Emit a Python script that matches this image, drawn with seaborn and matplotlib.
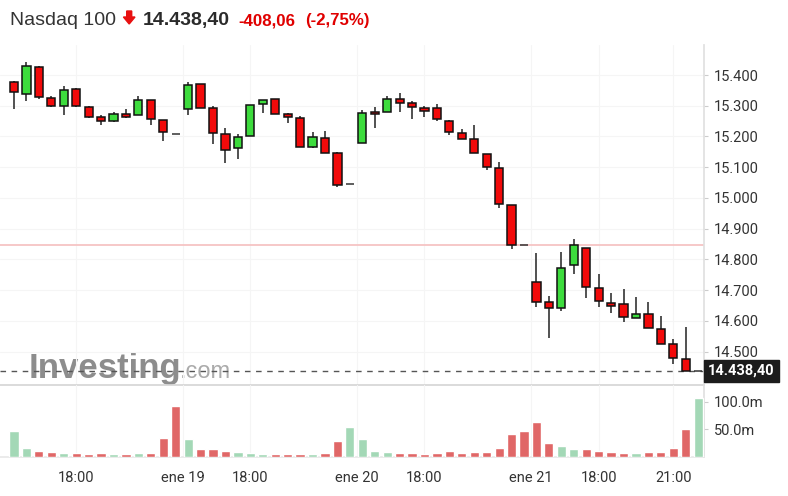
import matplotlib
matplotlib.use('Agg')
import matplotlib.pyplot as plt
import matplotlib.transforms as mtransforms
from matplotlib.patches import Polygon, Rectangle
import numpy as np
import pandas as pd
import seaborn as sns

# ─────────────────────────────────────────────────────────────────────────────
# DATA  (30-min candles, Nasdaq 100, 18-21 ene)
# ─────────────────────────────────────────────────────────────────────────────
opens = [15378, 15337, 15427, 15326, 15300, 15354, 15297, 15264, 15251, 15273, 15269, 15318, 15253, 15208,
         15288, 15372, 15294, 15207, 15162, 15203, 15305, 15322, 15274, 15261, 15166, 15196, 15147, 15045,
         15178, 15281, 15280, 15321, 15310, 15294, 15294, 15251, 15212, 15192, 15143, 15098, 14977, 14846,
         14728, 14663, 14641, 14781, 14838, 14708, 14659, 14655, 14609, 14622, 14574, 14525, 14476, 14438.4]
highs = [15380, 15441, 15429, 15332, 15365, 15357, 15299, 15270, 15279, 15289, 15332, 15318, 15253, 15208,
         15376, 15372, 15299, 15227, 15207, 15301, 15319, 15322, 15277, 15267, 15216, 15219, 15150, 15045,
         15286, 15297, 15333, 15340, 15315, 15300, 15305, 15253, 15223, 15237, 15143, 15118, 14977, 14846,
         14820, 14681, 14823, 14866, 14838, 14752, 14690, 14703, 14677, 14662, 14616, 14541, 14579, 14438.4]
lows = [15288, 15316, 15321, 15295, 15269, 15295, 15261, 15237, 15246, 15259, 15269, 15237, 15185, 15208,
        15269, 15292, 15176, 15115, 15126, 15203, 15277, 15272, 15245, 15167, 15162, 15145, 15037, 15045,
        15178, 15229, 15280, 15281, 15257, 15264, 15250, 15204, 15191, 15145, 15091, 14968, 14834, 14846,
        14646, 14543, 14633, 14753, 14674, 14646, 14627, 14597, 14609, 14576, 14524, 14460, 14438.4, 14438.4]
closes = [15346, 15429, 15329, 15300, 15350, 15300, 15264, 15251, 15273, 15264, 15318, 15256, 15216, 15208,
          15366, 15292, 15210, 15155, 15199, 15301, 15319, 15272, 15264, 15167, 15199, 15145, 15042, 15045,
          15277, 15272, 15322, 15308, 15297, 15284, 15256, 15216, 15191, 15145, 15102, 14979, 14846, 14846,
          14663, 14641, 14773, 14846, 14710, 14666, 14649, 14614, 14622, 14576, 14524, 14478, 14438.4, 14438.4]

# volume in millions, with up/down flag as shown by the bar colour
volumes = [47.5, 15.7, 11.4, 9.6, 7.2, 7.2, 4.9, 7.2, 4.9, 4.9, 7.2, 7.2, 34.3, 92.6,
           32, 13.9, 13.9, 11.4, 9, 7.2, 4.9, 4.9, 4.9, 4.9, 4.9, 7.2, 29.4, 54.2,
           32, 11.4, 9, 7.2, 7.2, 4.9, 7.2, 11.4, 7.2, 9, 9, 15.7, 41, 47.5,
           63.2, 24.7, 20.4, 13.9, 13.9, 11.4, 9, 7.2, 7.2, 9, 9, 15.7, 50, 106]
vol_dir = ['u', 'u', 'd', 'd', 'u', 'd', 'd', 'd', 'u', 'd', 'u', 'd', 'd', 'd',
           'u', 'd', 'd', 'd', 'u', 'u', 'u', 'd', 'd', 'd', 'u', 'd', 'd', 'u',
           'u', 'u', 'u', 'd', 'd', 'd', 'd', 'd', 'd', 'd', 'd', 'd', 'd', 'd',
           'd', 'd', 'u', 'u', 'd', 'd', 'd', 'd', 'u', 'd', 'd', 'd', 'd', 'u']

prev_close = 14846.46
last_price = 14438.40

time_tick_pos = [5, 13.55, 19, 27.55, 33, 41.55, 47, 53]
time_tick_labels = ['18:00', 'ene 19', '18:00', 'ene 20', '18:00', 'ene 21', '18:00', '21:00']
price_ticks = [14500, 14600, 14700, 14800, 14900, 15000, 15100, 15200, 15300, 15400]
vol_ticks = [50, 100]
vol_tick_labels = ['50.0m', '100.0m']

# ─────────────────────────────────────────────────────────────────────────────
# STYLE
# ─────────────────────────────────────────────────────────────────────────────
sns.set_theme(style='white')
plt.rcParams['font.family'] = ['Roboto', 'DejaVu Sans']

UP = '#3ddc3d'
DOWN = '#f20a0a'
VOL_UP = '#a3d8b6'
VOL_DOWN = '#e06767'
GRID = '#f5f5f5'
TXT = '#333333'

W, H = 788, 496
fig = plt.figure(figsize=(W / 100, H / 100), dpi=100)
fig.patch.set_facecolor('white')


def px(x, y):
    return x / W, 1 - y / H


ax_p = fig.add_axes([0, 1 - 385 / H, 704 / W, (385 - 45) / H])
ax_v = fig.add_axes([0, 1 - 457 / H, 704 / W, (457 - 385) / H])

x = np.arange(len(opens))
xlim = (-1.125, 55.47)

# ─────────────────────────────────────────────────────────────────────────────
# PRICE PANEL
# ─────────────────────────────────────────────────────────────────────────────
o = np.array(opens); c = np.array(closes); hi = np.array(highs); lo = np.array(lows)
flat = o == c
up = c > o
body_col = np.where(up, UP, DOWN)

ax_p.vlines(x[~flat], lo[~flat], hi[~flat], color='#222222', lw=1.1, zorder=3)
ax_p.bar(x[~flat], np.abs(c - o)[~flat], bottom=np.minimum(o, c)[~flat], width=0.66,
         color=body_col[~flat], edgecolor='#111111', linewidth=1.1, zorder=4)
ax_p.hlines(c[flat], x[flat] - 0.32, x[flat] + 0.32, color='#333333', lw=1.1, zorder=4)

ax_p.axhline(prev_close, color='#f6c4c4', lw=1.3, zorder=2)
ax_p.axhline(last_price, color='#555555', lw=1.0, dashes=(4, 4), zorder=2)

ax_p.set_xlim(*xlim)
ax_p.set_ylim(14391.6, 15497.6)
ax_p.set_xticks(time_tick_pos)
ax_p.set_xticklabels([])
ax_p.set_yticks(price_ticks)
ax_p.set_yticklabels([f'{v:,.0f}'.replace(',', '.') for v in price_ticks])
ax_p.yaxis.tick_right()
ax_p.tick_params(axis='y', length=3, width=0.8, color='#cccccc', pad=4,
                 labelsize=10.5, labelcolor=TXT)
ax_p.tick_params(axis='x', length=0)
ax_p.grid(True, color=GRID, lw=0.8)
for s in ['top', 'left']:
    ax_p.spines[s].set_visible(False)
ax_p.spines['right'].set_color('#e0e0e0')
ax_p.spines['bottom'].set_color('#d6d6d6')
ax_p.set_facecolor('none')

# last price label
blend = mtransforms.blended_transform_factory(ax_p.transAxes, ax_p.transData)
ax_p.add_patch(Rectangle((1.0, last_price - 11 * 3.253), 75 / 704, 22 * 3.253,
                         transform=blend, clip_on=False, color='#1c1c1c', zorder=6))
ax_p.text(1.0 + 4 / 704, last_price, '14.438,40', transform=blend, color='white',
          fontsize=10.5, fontweight='bold', va='center', ha='left', zorder=7, clip_on=False)

# watermark
ax_p.text(*px(29, 378), 'Investing', transform=fig.transFigure, fontsize=25,
          fontweight='bold', color='#8d8d8d', family=['Liberation Sans'], zorder=0.5)
ax_p.text(*px(180, 378), '.com', transform=fig.transFigure, fontsize=17,
          color='#ababab', family=['Liberation Sans'], zorder=0.5)

# ─────────────────────────────────────────────────────────────────────────────
# VOLUME PANEL
# ─────────────────────────────────────────────────────────────────────────────
vol_df = pd.DataFrame({'idx': x, 'vol': volumes, 'dir': vol_dir})
sns.barplot(data=vol_df, x='idx', y='vol', hue='dir', palette={'u': VOL_UP, 'd': VOL_DOWN},
            dodge=False, width=0.74, saturation=1, legend=False, ax=ax_v, zorder=3)
ax_v.set_xlim(*xlim)
ax_v.set_ylim(0, 130)
ax_v.set_xlabel('')
ax_v.set_ylabel('')
ax_v.set_xticks(time_tick_pos)
ax_v.set_xticklabels(time_tick_labels)
ax_v.set_yticks(vol_ticks)
ax_v.set_yticklabels(vol_tick_labels)
ax_v.yaxis.tick_right()
ax_v.tick_params(axis='y', length=3, width=0.8, color='#cccccc', pad=4,
                 labelsize=10.5, labelcolor=TXT)
ax_v.tick_params(axis='x', length=4, width=0.8, color='#cccccc', pad=6,
                 labelsize=10.5, labelcolor=TXT)
ax_v.grid(True, axis='x', color=GRID, lw=0.8)
ax_v.set_axisbelow(True)
for s in ['top', 'left']:
    ax_v.spines[s].set_visible(False)
ax_v.spines['right'].set_color('#e0e0e0')
ax_v.spines['bottom'].set_color('#e8e8e8')
ax_v.set_facecolor('none')

# ─────────────────────────────────────────────────────────────────────────────
# HEADER
# ─────────────────────────────────────────────────────────────────────────────
hdr = ['Liberation Sans', 'DejaVu Sans']
fig.text(*px(10, 25), 'Nasdaq 100', fontsize=14, color='#333333', family=hdr, va='baseline')
arrow = [(126.7, 11), (131.7, 11), (131.7, 17), (135, 17), (129.2, 24),
         (123.4, 17), (126.7, 17)]
fig.add_artist(Polygon([px(a, b) for a, b in arrow], closed=True, color='#e81010',
                       transform=fig.transFigure))
fig.text(*px(142.5, 25), '14.438,40', fontsize=14, fontweight='bold', color='#2a2a2a',
         family=hdr, va='baseline')
fig.text(*px(238, 25), '-408,06', fontsize=12.2, fontweight='bold', color='#e00000',
         family=hdr, va='baseline')
fig.text(*px(305, 25), '(-2,75%)', fontsize=12.2, fontweight='bold', color='#e00000',
         family=hdr, va='baseline')

fig.savefig('out.png', dpi=100)
